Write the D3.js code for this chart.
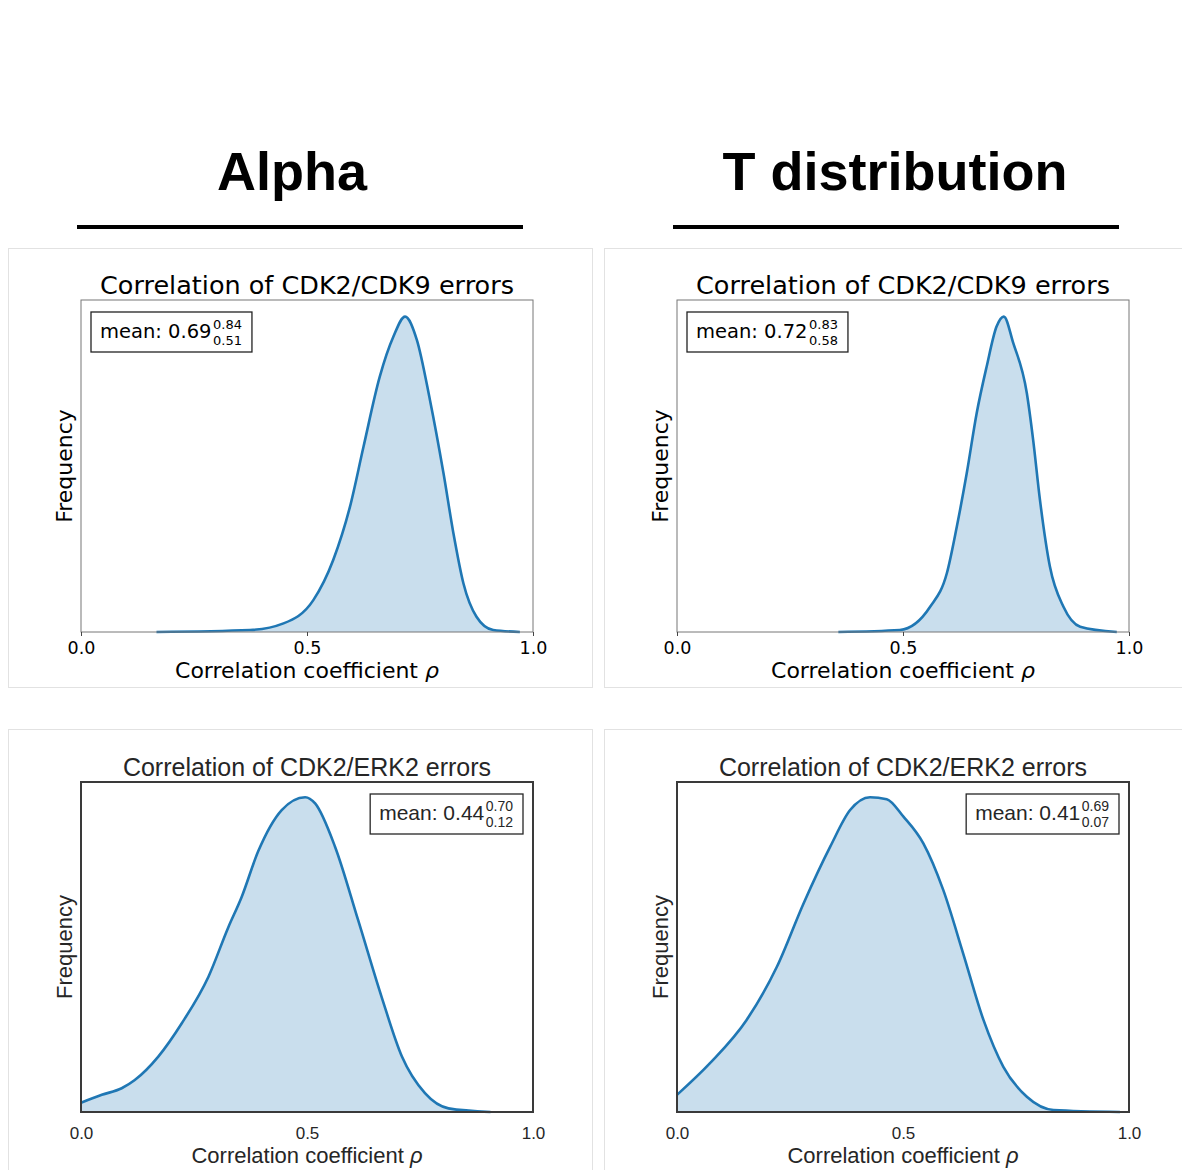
<!DOCTYPE html>
<html>
<head>
<meta charset="utf-8">
<script src="https://cdn.jsdelivr.net/npm/d3@7"></script>
<style>
  body { margin: 0; background: #fff; }
  svg { display: block; }
</style>
</head>
<body>
<svg id="chart" width="1182" height="1170"></svg>
<script>
// ---- data -------------------------------------------------------------
const columnTitles = ["Alpha", "T distribution"];
const rowTitles = ["Correlation of CDK2/CDK9 errors", "Correlation of CDK2/ERK2 errors"];
const xTicks = [0.0, 0.5, 1.0];
const xLabel = "Correlation coefficient ";
const xLabelSymbol = "ρ";
const yLabel = "Frequency";

// posterior densities of the correlation coefficient (relative frequency)
const cdk9AlphaRho     = [0.167, 0.374, 0.448, 0.514, 0.558, 0.595, 0.625, 0.661, 0.691, 0.717, 0.743, 0.772, 0.802, 0.824, 0.846, 0.875, 0.912, 0.971];
const cdk9AlphaDensity = [0.000, 0.006, 0.026, 0.096, 0.217, 0.377, 0.558, 0.769, 0.889, 0.950, 0.880, 0.699, 0.478, 0.297, 0.147, 0.046, 0.006, 0.000];

const cdk9TRho         = [0.357, 0.493, 0.560, 0.597, 0.619, 0.641, 0.663, 0.685, 0.707, 0.723, 0.744, 0.774, 0.788, 0.803, 0.825, 0.855, 0.892, 0.973];
const cdk9TDensity     = [0.000, 0.006, 0.076, 0.177, 0.317, 0.478, 0.659, 0.799, 0.920, 0.950, 0.870, 0.719, 0.578, 0.398, 0.197, 0.076, 0.016, 0.000];

const erk2AlphaRho     = [0.000, 0.046, 0.090, 0.119, 0.171, 0.223, 0.282, 0.326, 0.355, 0.392, 0.444, 0.496, 0.518, 0.562, 0.613, 0.665, 0.710, 0.761, 0.813, 0.906];
const erk2AlphaDensity = [0.028, 0.052, 0.072, 0.097, 0.168, 0.269, 0.410, 0.560, 0.650, 0.790, 0.915, 0.954, 0.935, 0.804, 0.582, 0.349, 0.168, 0.057, 0.011, 0.000];

const erk2TRho         = [0.000, 0.073, 0.154, 0.221, 0.280, 0.339, 0.383, 0.427, 0.464, 0.501, 0.545, 0.589, 0.633, 0.678, 0.722, 0.774, 0.833, 0.980];
const erk2TDensity     = [0.052, 0.148, 0.279, 0.440, 0.632, 0.804, 0.915, 0.954, 0.948, 0.895, 0.814, 0.673, 0.481, 0.279, 0.137, 0.046, 0.006, 0.000];

// mean with upper / lower interval bounds shown in each legend box
const meanValues  = ["0.69", "0.72", "0.44", "0.41"];
const upperValues = ["0.84", "0.83", "0.70", "0.69"];
const lowerValues = ["0.51", "0.58", "0.12", "0.07"];

// ---- layout -----------------------------------------------------------
const svg = d3.select("#chart");
const lineColor = "#1f77b4";

const rowStyles = [
  { font: "'DejaVu Sans', sans-serif", ink: "#000", frame: "#777", frameWidth: 1, ticks: true,
    tickPad: 6, labelGap: 46, titleSize: 25.5, labelSize: 22, tickSize: 17.5,
    legendSize: 19.5, scriptSize: 13 },
  { font: "'Liberation Sans', Arial, sans-serif", ink: "#262626", frame: "#3a3a3a", frameWidth: 2, ticks: false,
    tickPad: 15, labelGap: 51, titleSize: 25, labelSize: 22, tickSize: 17,
    legendSize: 21, scriptSize: 14 }
];

const panels = [
  { row: 0, col: 0, rho: cdk9AlphaRho, dens: cdk9AlphaDensity, legend: "left" },
  { row: 0, col: 1, rho: cdk9TRho,     dens: cdk9TDensity,     legend: "left" },
  { row: 1, col: 0, rho: erk2AlphaRho, dens: erk2AlphaDensity, legend: "right" },
  { row: 1, col: 1, rho: erk2TRho,     dens: erk2TDensity,     legend: "right" }
];

const colX = [81, 677];          // plot left edge per column
const plotW = 452;
const rowTop = [300, 782];       // plot top per row
const plotH = [332, 330];
const cardX = [8.5, 604.5];
const cardY = [248.5, 729.5];
const cardW = [584, 600];
const cardH = [439, 500];
const headerX = [292, 895];

// column headers with rule underneath
columnTitles.forEach((t, i) => {
  svg.append("text")
    .attr("x", headerX[i]).attr("y", 190)
    .attr("text-anchor", "middle")
    .attr("font-family", "'Liberation Sans', Arial, sans-serif")
    .attr("font-weight", "bold")
    .attr("font-size", 54)
    .attr("fill", "#000")
    .text(t);
  svg.append("rect")
    .attr("x", colX[i] - 4).attr("y", 225)
    .attr("width", 446).attr("height", 4)
    .attr("fill", "#000");
});

// card outlines
panels.forEach(p => {
  svg.append("rect")
    .attr("x", cardX[p.col]).attr("y", cardY[p.row])
    .attr("width", cardW[p.col]).attr("height", cardH[p.row])
    .attr("fill", "#fff")
    .attr("stroke", "#e2e2e2")
    .attr("stroke-width", 1);
});

panels.forEach((p, idx) => {
  const st = rowStyles[p.row];
  const x0 = colX[p.col], y0 = rowTop[p.row], h = plotH[p.row];
  const x = d3.scaleLinear().domain([0, 1]).range([x0, x0 + plotW]);
  const y = d3.scaleLinear().domain([0, 1]).range([y0 + h, y0]);
  const g = svg.append("g");

  const pts = p.rho.map((r, i) => [r, p.dens[i]]);

  g.append("path")
    .datum(pts)
    .attr("d", d3.area().x(d => x(d[0])).y0(y(0)).y1(d => y(d[1])).curve(d3.curveMonotoneX))
    .attr("fill", lineColor)
    .attr("fill-opacity", 0.24);

  g.append("path")
    .datum(pts)
    .attr("d", d3.line().x(d => x(d[0])).y(d => y(d[1])).curve(d3.curveMonotoneX))
    .attr("fill", "none")
    .attr("stroke", lineColor)
    .attr("stroke-width", 2.6)
    .attr("stroke-linejoin", "round");

  // frame
  g.append("rect")
    .attr("x", x0).attr("y", y0)
    .attr("width", plotW).attr("height", h)
    .attr("fill", "none")
    .attr("stroke", st.frame)
    .attr("stroke-width", st.frameWidth);

  // x axis ticks and labels
  const axis = d3.axisBottom(x).tickValues(xTicks).tickFormat(d3.format(".1f"))
    .tickSize(st.ticks ? 4 : 0).tickPadding(st.tickPad);
  const ax = g.append("g").attr("transform", `translate(0,${y0 + h})`).call(axis);
  ax.select(".domain").remove();
  ax.selectAll(".tick line").attr("stroke", "#444");
  ax.selectAll(".tick text")
    .attr("font-family", st.font)
    .attr("font-size", st.tickSize)
    .attr("fill", st.ink);

  // panel title
  g.append("text")
    .attr("x", x0 + plotW / 2).attr("y", y0 - 6)
    .attr("text-anchor", "middle")
    .attr("font-family", st.font)
    .attr("font-size", st.titleSize)
    .attr("fill", st.ink)
    .text(rowTitles[p.row]);

  // x label with italic rho
  const xl = g.append("text")
    .attr("x", x0 + plotW / 2).attr("y", y0 + h + st.labelGap)
    .attr("text-anchor", "middle")
    .attr("font-family", st.font)
    .attr("font-size", st.labelSize)
    .attr("fill", st.ink);
  xl.append("tspan").text(xLabel);
  xl.append("tspan").attr("font-style", "italic").text(xLabelSymbol);

  // y label
  g.append("text")
    .attr("transform", `translate(${x0 - 9},${y0 + h / 2}) rotate(-90)`)
    .attr("text-anchor", "middle")
    .attr("font-family", st.font)
    .attr("font-size", st.labelSize)
    .attr("fill", st.ink)
    .text(yLabel);

  // legend box: mean with interval bounds as super/subscripts
  const lg = g.append("g");
  const main = lg.append("text")
    .attr("font-family", st.font).attr("font-size", st.legendSize).attr("fill", st.ink)
    .text("mean: " + meanValues[idx]);
  const sup = lg.append("text")
    .attr("font-family", st.font).attr("font-size", st.scriptSize).attr("fill", st.ink)
    .text(upperValues[idx]);
  const sub = lg.append("text")
    .attr("font-family", st.font).attr("font-size", st.scriptSize).attr("fill", st.ink)
    .text(lowerValues[idx]);
  const mw = main.node().getComputedTextLength();
  const sw = Math.max(sup.node().getComputedTextLength(), sub.node().getComputedTextLength());
  const padX = 9, boxH = 40;
  const boxW = padX + mw + 1.5 + sw + padX + 1;
  const bx = p.legend === "left" ? x0 + 10 : x0 + plotW - 10 - boxW;
  const by = y0 + 12;
  lg.insert("rect", "text")
    .attr("x", bx).attr("y", by).attr("width", boxW).attr("height", boxH)
    .attr("fill", "#fff").attr("stroke", p.row === 0 ? "#222" : "#262626").attr("stroke-width", 1.3);
  main.attr("x", bx + padX).attr("y", by + 26);
  sup.attr("x", bx + padX + mw + 1.5).attr("y", by + 16.5);
  sub.attr("x", bx + padX + mw + 1.5).attr("y", by + 32.5);
});
</script>
</body>
</html>
